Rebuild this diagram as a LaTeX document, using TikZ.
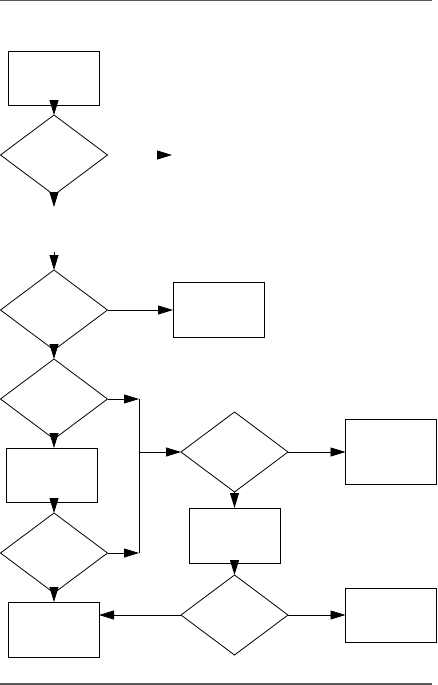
\documentclass[tikz,border=0pt]{standalone}
\usepackage{tikz}
\usetikzlibrary{shapes.geometric, arrows.meta, positioning}

\begin{document}
\begin{tikzpicture}[
    x=1pt, y=-1pt,
    box/.style={rectangle, draw, line width=0.8pt, minimum width=91pt, minimum height=54pt, inner sep=0pt, outer sep=0pt},
    decision/.style={diamond, draw, line width=0.8pt, minimum width=107pt, minimum height=80pt, inner sep=0pt, outer sep=0pt},
    arrow/.style={line width=0.8pt, -{Triangle[length=15pt, width=9pt]}},
    rule/.style={draw=black!65, line width=1.2pt}
]
\useasboundingbox (0,0) rectangle (437,685);

% left column
\node[box] (start) at (54,78) {};
\node[decision] (check1) at (54,155) {};
\coordinate (out1) at (54,207);
\coordinate (in2) at (54,252);
\node[decision] (check2) at (54,310) {};
\node[box, minimum height=55pt] (act1) at (218.5,310) {};
\node[decision] (check3) at (54,399) {};
\node[box] (act2) at (52,475) {};
\node[decision] (check4) at (54,553) {};
\node[box, minimum height=55pt] (finish) at (53.5,629.5) {};

% right part
\node[decision] (check5) at (234.5,452) {};
\node[box, minimum height=65pt] (act3) at (391,452) {};
\node[box, minimum height=55pt] (act4) at (234.5,535.5) {};
\node[decision] (check6) at (234.5,615) {};
\node[box] (act5) at (391,615) {};

% lone tip and merge line
\coordinate (tipa) at (157,155);
\coordinate (tipb) at (172,155);
\coordinate (mergetop) at (139,399);
\coordinate (mergemid) at (139,452);
\coordinate (mergebot) at (139,553);

\draw[arrow] (start.south -| check1.north) -- (check1.north);
\draw[arrow] (check1.south) -- (out1);
\draw[arrow] (tipa) -- (tipb);
\draw[arrow] (in2) -- (check2.north);
\draw[arrow] (check2.east) -- (act1.west);
\draw[arrow] (check2.south) -- (check3.north);
\draw[arrow] (check3.east) -- (mergetop);
\draw[arrow] (check3.south) -- (check3.south |- act2.north);
\draw[arrow] (check4.north |- act2.south) -- (check4.north);
\draw[arrow] (check4.east) -- (mergebot);
\draw[arrow] (check4.south) -- (check4.south |- finish.north);
\draw[line width=0.8pt] (mergetop) -- (mergebot);
\draw[arrow] (mergemid) -- (check5.west);
\draw[arrow] (check5.east) -- (act3.west);
\draw[arrow] (check5.south) -- (act4.north);
\draw[arrow] (act4.south) -- (check6.north);
\draw[arrow] (check6.east) -- (act5.west);
\draw[arrow] (check6.west) -- (check6.west -| finish.east);

% page rules
\coordinate (ruleTL) at (0,0.6);
\coordinate (ruleTR) at (432,0.6);
\coordinate (ruleBL) at (0,684);
\coordinate (ruleBR) at (432,684);
\draw[rule] (ruleTL) -- (ruleTR);
\draw[rule] (ruleBL) -- (ruleBR);

\end{tikzpicture}
\end{document}
